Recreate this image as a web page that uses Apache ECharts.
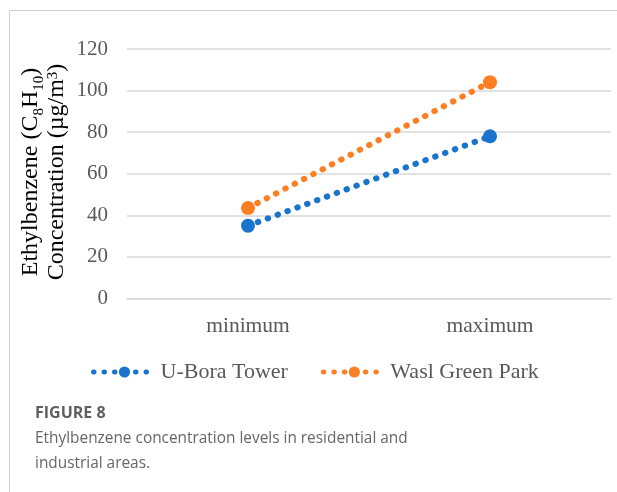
<!DOCTYPE html>
<html>
<head>
<meta charset="utf-8">
<script src="https://cdn.jsdelivr.net/npm/echarts@6/dist/echarts.min.js"></script>
<style>
  html, body { margin: 0; padding: 0; background: #ffffff; }
  #chart { width: 617px; height: 492px; }
</style>
</head>
<body>
<div id="chart"></div>
<script>
// Ethylbenzene concentration (µg/m³) at two sites
const categories = ['minimum', 'maximum'];
const uBoraTower = [35, 78];
const waslGreenPark = [43.5, 104];
const seriesNames = ['U-Bora Tower', 'Wasl Green Park'];
const yTicks = { min: 0, max: 120, step: 20 };

const blue = '#1a74cd';
const orange = '#fd7f23';
const serif = '"Liberation Serif", "Times New Roman", serif';
const sans = '"Open Sans", "Noto Sans", sans-serif';
const dotted = [0.5, 10];

const chart = echarts.init(document.getElementById('chart'), null, { renderer: 'canvas' });

function lineSeries(name, data, color) {
  return {
    name: name,
    type: 'line',
    data: data,
    symbol: 'circle',
    symbolSize: 14,
    itemStyle: { color: color },
    lineStyle: { color: color, width: 6, type: dotted, cap: 'round' },
    emphasis: { disabled: true },
    z: 3
  };
}

chart.setOption({
  animation: false,
  backgroundColor: '#ffffff',
  grid: { left: 127, right: 6, top: 49, bottom: 193.5, containLabel: false },
  legend: {
    left: 86,
    top: 356,
    itemWidth: 62,
    itemHeight: 14,
    itemGap: 33,
    lineStyle: { width: 5, type: dotted, cap: 'round' },
    textStyle: { fontFamily: serif, fontSize: 22, color: '#595959', padding: [0, 0, 0, 0] },
    data: seriesNames
  },
  xAxis: {
    type: 'category',
    data: categories,
    axisLine: { show: true, lineStyle: { color: '#d9d9d9', width: 1.5 } },
    axisTick: { show: false },
    axisLabel: { fontFamily: serif, fontSize: 21.5, color: '#595959', margin: 17 }
  },
  yAxis: {
    type: 'value',
    min: yTicks.min,
    max: yTicks.max,
    interval: yTicks.step,
    axisLine: { show: false },
    axisTick: { show: false },
    axisLabel: { fontFamily: serif, fontSize: 21, color: '#595959', margin: 19 },
    splitLine: { lineStyle: { color: '#d9d9d9', width: 1.5 } }
  },
  series: [
    lineSeries(seriesNames[0], uBoraTower, blue),
    lineSeries(seriesNames[1], waslGreenPark, orange)
  ],
  graphic: [
    // panel frame (top and left edges)
    {
      type: 'polyline',
      shape: { points: [[9.5, 492], [9.5, 10.5], [617, 10.5]] },
      style: { stroke: '#cfcfcf', lineWidth: 1, fill: null },
      silent: true
    },
    // y-axis title, first line
    {
      type: 'text',
      x: 31, y: 172,
      rotation: Math.PI / 2,
      style: {
        text: '{m|Ethylbenzene (C}{s|8}{m|H}{s|10}{m|)}',
        align: 'center', verticalAlign: 'middle',
        rich: {
          m: { fontFamily: serif, fontSize: 24, color: '#666666', lineHeight: 26, verticalAlign: 'middle' },
          s: { fontFamily: serif, fontSize: 15, color: '#666666', lineHeight: 26, verticalAlign: 'bottom', padding: [0, 0, -3, 0] }
        }
      }
    },
    // y-axis title, second line
    {
      type: 'text',
      x: 57, y: 172,
      rotation: Math.PI / 2,
      style: {
        text: '{m|Concentration (µg/m}{p|3}{m|)}',
        align: 'center', verticalAlign: 'middle',
        rich: {
          m: { fontFamily: serif, fontSize: 24, color: '#666666', lineHeight: 26, verticalAlign: 'middle' },
          p: { fontFamily: serif, fontSize: 15, color: '#666666', lineHeight: 26, verticalAlign: 'top', padding: [2, 0, 0, 0] }
        }
      }
    },
    // figure caption
    {
      type: 'text',
      x: 35, y: 405,
      style: { text: 'FIGURE 8', fontFamily: sans, fontWeight: 'bold', fontSize: 16, fill: '#5f5f5f' }
    },
    {
      type: 'text',
      x: 35, y: 426,
      style: {
        text: 'Ethylbenzene concentration levels in residential and\nindustrial areas.',
        fontFamily: sans, fontSize: 15.4, lineHeight: 25, fill: '#666666'
      }
    }
  ]
});
</script>
</body>
</html>
